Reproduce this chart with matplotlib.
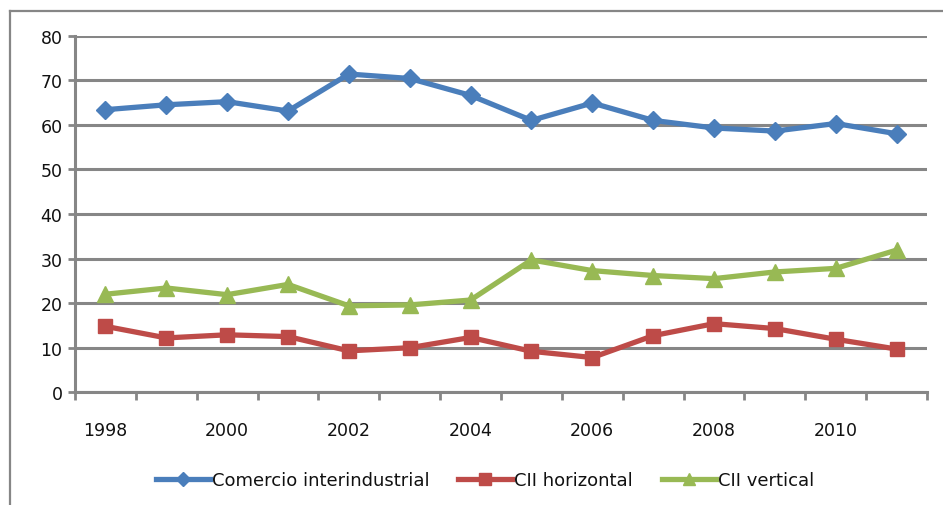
import matplotlib
matplotlib.use("Agg")
import matplotlib.pyplot as plt
from matplotlib.lines import Line2D
import numpy as np

years = [1998, 1999, 2000, 2001, 2002, 2003, 2004, 2005, 2006, 2007, 2008, 2009, 2010, 2011]
comercio = [63.4, 64.5, 65.2, 63.1, 71.4, 70.4, 66.6, 61.0, 64.9, 61.0, 59.3, 58.6, 60.3, 58.0]
cii_horizontal = [14.8, 12.2, 12.9, 12.5, 9.3, 10.0, 12.3, 9.2, 7.8, 12.7, 15.4, 14.3, 11.9, 9.7]
cii_vertical = [22.0, 23.4, 21.9, 24.2, 19.4, 19.6, 20.7, 29.7, 27.3, 26.2, 25.5, 27.0, 27.8, 31.9]
series_names = ["Comercio interindustrial", "CII horizontal", "CII vertical"]
xlabels = ["1998", "2000", "2002", "2004", "2006", "2008", "2010"]

W, H = 943, 506
fig = plt.figure(figsize=(W / 100, H / 100), dpi=100)
ax = fig.add_axes([75 / W, 1 - 393.3 / H, (927 - 75) / W, (393.3 - 36.7) / H])

grid_c = "#868686"
x = np.arange(len(years))
ax.plot(x, comercio, color="#4A7EBB", lw=3.8, marker="D", ms=9.5, label=series_names[0], zorder=3)
ax.plot(x, cii_horizontal, color="#BE4B48", lw=3.8, marker="s", ms=10, label=series_names[1], zorder=3)
ax.plot(x, cii_vertical, color="#98B954", lw=3.8, marker="^", ms=11, label=series_names[2], zorder=3)

ax.set_xlim(-0.5, len(years) - 0.5)
ax.set_ylim(0, 80)
ax.set_yticks(range(0, 81, 10))
ax.yaxis.grid(True, color=grid_c, lw=2.2)
ax.set_axisbelow(True)

ax.set_xticks(np.arange(-0.5, len(years), 1.0))
ax.set_xticklabels([])
ax.set_xticks([years.index(int(l)) for l in xlabels], minor=True)
ax.set_xticklabels(xlabels, minor=True)
ax.tick_params(axis="x", which="major", length=6, width=2, color=grid_c, direction="out")
ax.tick_params(axis="x", which="minor", length=0, pad=21, labelsize=12.5, labelcolor="#111111")
ax.tick_params(axis="y", length=5, width=2, color=grid_c, labelsize=12.5, pad=4, labelcolor="#111111")

for s in ["top", "right"]:
    ax.spines[s].set_visible(False)
for s in ["left", "bottom"]:
    ax.spines[s].set_color(grid_c)
    ax.spines[s].set_linewidth(2.2)

# chart area border (partially cropped in the reference)
fig.add_artist(Line2D([10 / W, 10 / W], [0, 1 - 12 / H], transform=fig.transFigure, color=grid_c, lw=1.6))
fig.add_artist(Line2D([10 / W, 1], [1 - 12 / H, 1 - 12 / H], transform=fig.transFigure, color=grid_c, lw=1.6))

leg = fig.legend(loc="center", bbox_to_anchor=(485 / W, 1 - 481 / H), ncol=3, frameon=False,
                 fontsize=13, handlelength=3.0, columnspacing=1.6, handletextpad=0.1, markerscale=0.8)
for t in leg.get_texts():
    t.set_color("#111111")

fig.savefig("out.png", dpi=100)
